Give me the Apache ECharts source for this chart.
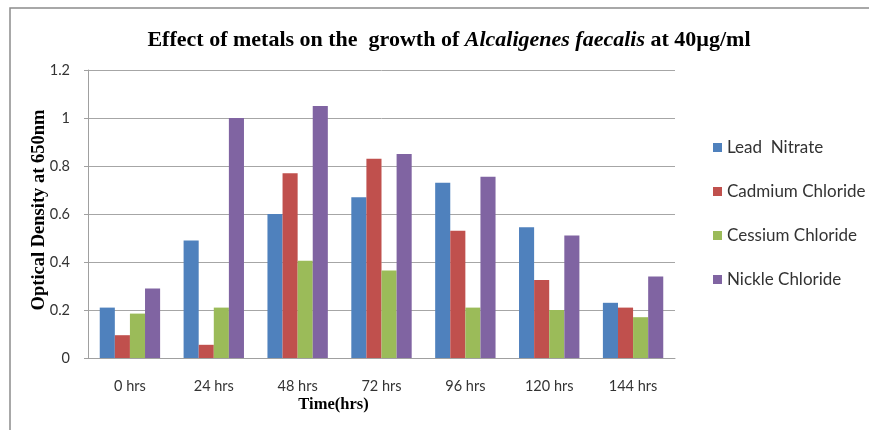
<!DOCTYPE html>
<html>
<head>
<meta charset="utf-8">
<script src="https://cdn.jsdelivr.net/npm/echarts@6/dist/echarts.min.js"></script>
<style>
  html, body { margin: 0; padding: 0; background: #fff; }
  #chart { width: 869px; height: 430px; }
</style>
</head>
<body>
<div id="chart"></div>
<script>
// Sampling times
const categories = ['0 hrs', '24 hrs', '48 hrs', '72 hrs', '96 hrs', '120 hrs', '144 hrs'];

// Optical density at 650nm for each metal salt
const leadNitrate      = [0.21, 0.49, 0.60, 0.67, 0.73, 0.545, 0.23];
const cadmiumChloride  = [0.095, 0.055, 0.77, 0.83, 0.53, 0.325, 0.21];
const cessiumChloride  = [0.185, 0.21, 0.405, 0.365, 0.21, 0.20, 0.17];
const nickleChloride   = [0.29, 1.00, 1.05, 0.85, 0.755, 0.51, 0.34];

const seriesNames = ['Lead  Nitrate', 'Cadmium Chloride', 'Cessium Chloride', 'Nickle Chloride'];
const seriesData = [leadNitrate, cadmiumChloride, cessiumChloride, nickleChloride];
const colors = ['#4f81bd', '#c0504d', '#9bbb59', '#8064a2'];

// y-axis ticks
const yTicks = [0, 0.2, 0.4, 0.6, 0.8, 1, 1.2];

const chart = echarts.init(document.getElementById('chart'));

chart.setOption({
  animation: false,
  backgroundColor: '#fff',
  color: colors,
  title: {
    text: '{b|Effect of metals on the  growth of }{i|Alcaligenes faecalis}{b| at 40µg/ml}',
    left: 444,
    textAlign: 'center',
    top: 24,
    textStyle: {
      rich: {
        b: { fontFamily: 'Liberation Serif', fontWeight: 'bold', fontSize: 22, color: '#000' },
        i: { fontFamily: 'Liberation Serif', fontStyle: 'italic', fontSize: 22, color: '#000' }
      }
    }
  },
  graphic: [{
    type: 'rect',
    shape: { x: 10, y: 8, width: 900, height: 440 },
    style: { fill: 'none', stroke: '#8c8c8c', lineWidth: 1.5 },
    silent: true
  }],
  legend: {
    orient: 'vertical',
    left: 708,
    top: 134,
    itemGap: 27,
    itemWidth: 9,
    itemHeight: 9,
    icon: 'rect',
    textStyle: { fontFamily: 'Lato', fontSize: 17, color: '#333', padding: [0, 0, 0, 0] },
    data: seriesNames
  },
  grid: { left: 88, right: 194, top: 70, bottom: 72 },
  xAxis: {
    type: 'category',
    data: categories,
    name: 'Time(hrs)',
    nameLocation: 'middle',
    nameGap: 38,
    nameMoveOverlap: false,
    nameTextStyle: {
      fontFamily: 'Liberation Serif', fontWeight: 'bold', fontSize: 16.5, color: '#000',
      padding: [0, 96, 0, 0]
    },
    axisLine: { lineStyle: { color: '#a0a0a0', width: 1 } },
    axisTick: { show: false },
    axisLabel: { fontFamily: 'Lato', fontSize: 14.5, color: '#333', margin: 21 }
  },
  yAxis: {
    type: 'value',
    min: 0,
    max: 1.2,
    interval: 0.2,
    name: 'Optical Density at 650nm',
    nameLocation: 'middle',
    nameGap: 39,
    nameMoveOverlap: false,
    nameTextStyle: {
      fontFamily: 'Liberation Serif', fontWeight: 'bold', fontSize: 18.5, color: '#000',
      padding: [0, 0, 0, 8]
    },
    axisLine: { show: true, lineStyle: { color: '#a0a0a0', width: 1 } },
    axisTick: { show: true, length: 4, lineStyle: { color: '#a0a0a0' } },
    axisLabel: {
      fontFamily: 'Lato', fontSize: 14.5, color: '#333', margin: 18,
      formatter: v => {
        const t = yTicks.find(x => Math.abs(x - v) < 1e-9);
        return t === undefined ? '' : String(t);
      }
    },
    splitLine: { lineStyle: { color: '#a6a6a6', width: 1 } }
  },
  series: seriesNames.map((name, i) => ({
    name,
    type: 'bar',
    data: seriesData[i],
    barGap: '0%',
    barCategoryGap: '28%',
    itemStyle: { color: colors[i] }
  }))
});
</script>
</body>
</html>
